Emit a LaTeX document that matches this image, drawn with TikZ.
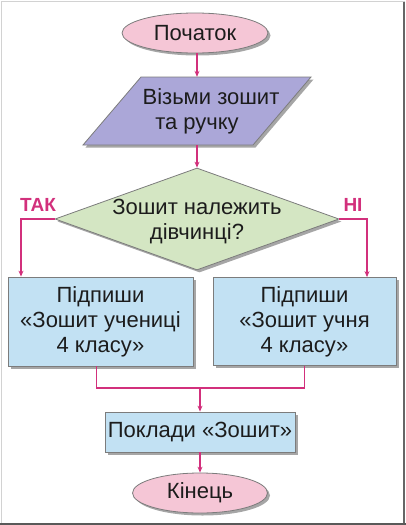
\documentclass[tikz,border=0pt]{standalone}
\usepackage{fontspec}
\setmainfont{Liberation Sans}
\usetikzlibrary{shapes.geometric,shadows,arrows.meta}
\definecolor{pinkf}{HTML}{F5C6D6}
\definecolor{lavf}{HTML}{ABA7D8}
\definecolor{greenf}{HTML}{D4E6C3}
\definecolor{bluef}{HTML}{C2E1F3}
\definecolor{mag}{HTML}{D2307C}
\definecolor{bord}{HTML}{7C7C7C}
\definecolor{txt}{HTML}{1C1C1C}
\begin{document}
\begin{tikzpicture}[x=1pt,y=-1pt,
  every node/.style={font=\fontsize{22}{25}\selectfont, text=txt},
  shad/.style={drop shadow={shadow xshift=2.5pt, shadow yshift=-2.5pt, fill=black, opacity=0.35}},
  term/.style={ellipse, draw=bord, line width=0.8pt, fill=pinkf, minimum height=40pt, inner sep=0pt, shad},
  proc/.style={rectangle, draw=bord, line width=0.8pt, fill=bluef, align=center, inner sep=0pt, shad},
  dec/.style={diamond, draw=bord, line width=0.8pt, fill=greenf, inner sep=0pt, minimum width=284pt, minimum height=102pt, shad},
  paraf/.style={draw=bord, line width=0.8pt, fill=lavf, shad},
  flow/.style={draw=mag, line width=1.1pt, -{Stealth[length=6pt,width=5pt]}},
  joinline/.style={draw=mag, line width=1.1pt},
  lbl/.style={font=\fontsize{19}{20}\selectfont\bfseries, text=mag}]
\useasboundingbox (0,0) rectangle (406,525);
% frame
\draw[gray!35, line width=1pt] (1.5,1.5) rectangle (404,523.5);
\draw[gray!80!black, line width=1.2pt] (404,1.5) -- (404,523.5);
\draw[black!65, line width=2pt] (0,524) -- (406,524);
% nodes
\node[term, minimum width=146pt] (start) at (195,33) {Початок};
\draw[paraf] (141,77) -- (311,77) -- (253,145) -- (83,145) -- cycle;
\node[minimum width=170pt, minimum height=68pt, inner sep=0pt, align=center] (take) at (197,111) {\hspace*{28pt}Візьми зошит\\та ручку};
\node[dec] (q) at (197,219) {};
\node[align=center, inner sep=0pt] (qt) at (197,222) {Зошит належить\\дівчинці?};
\node[lbl] (yl) at (38,205) {ТАК};
\node[lbl] (nl) at (353,205) {НІ};
\node[proc, minimum width=185pt, minimum height=89pt] (yes) at (100.5,321.5) {Підпиши\\«Зошит учениці\\4 класу»};
\node[proc, minimum width=183pt, minimum height=88pt] (no) at (304.5,321.5) {Підпиши\\«Зошит учня\\4 класу»};
\node[proc, minimum width=190pt, minimum height=40pt] (put) at (200,432) {Поклади «Зошит»};
\node[term, minimum width=135pt] (end) at (200,493) {Кінець};
\coordinate (m) at (200,388);
% connectors
\draw[flow] (start.south -| take.north) -- (take.north);
\draw[flow] (take.south) -- (q.north);
\draw[flow] (q.west) -| ([xshift=-79.5pt]yes.north);
\draw[flow] (q.east) -| ([xshift=62.5pt]no.north);
\draw[joinline] ([xshift=-4pt]yes.south) |- (m);
\draw[joinline] (no.south) |- (m);
\draw[flow] (m) -- (put.north);
\draw[flow] (put.south) -- (end.north);
\end{tikzpicture}
\end{document}
